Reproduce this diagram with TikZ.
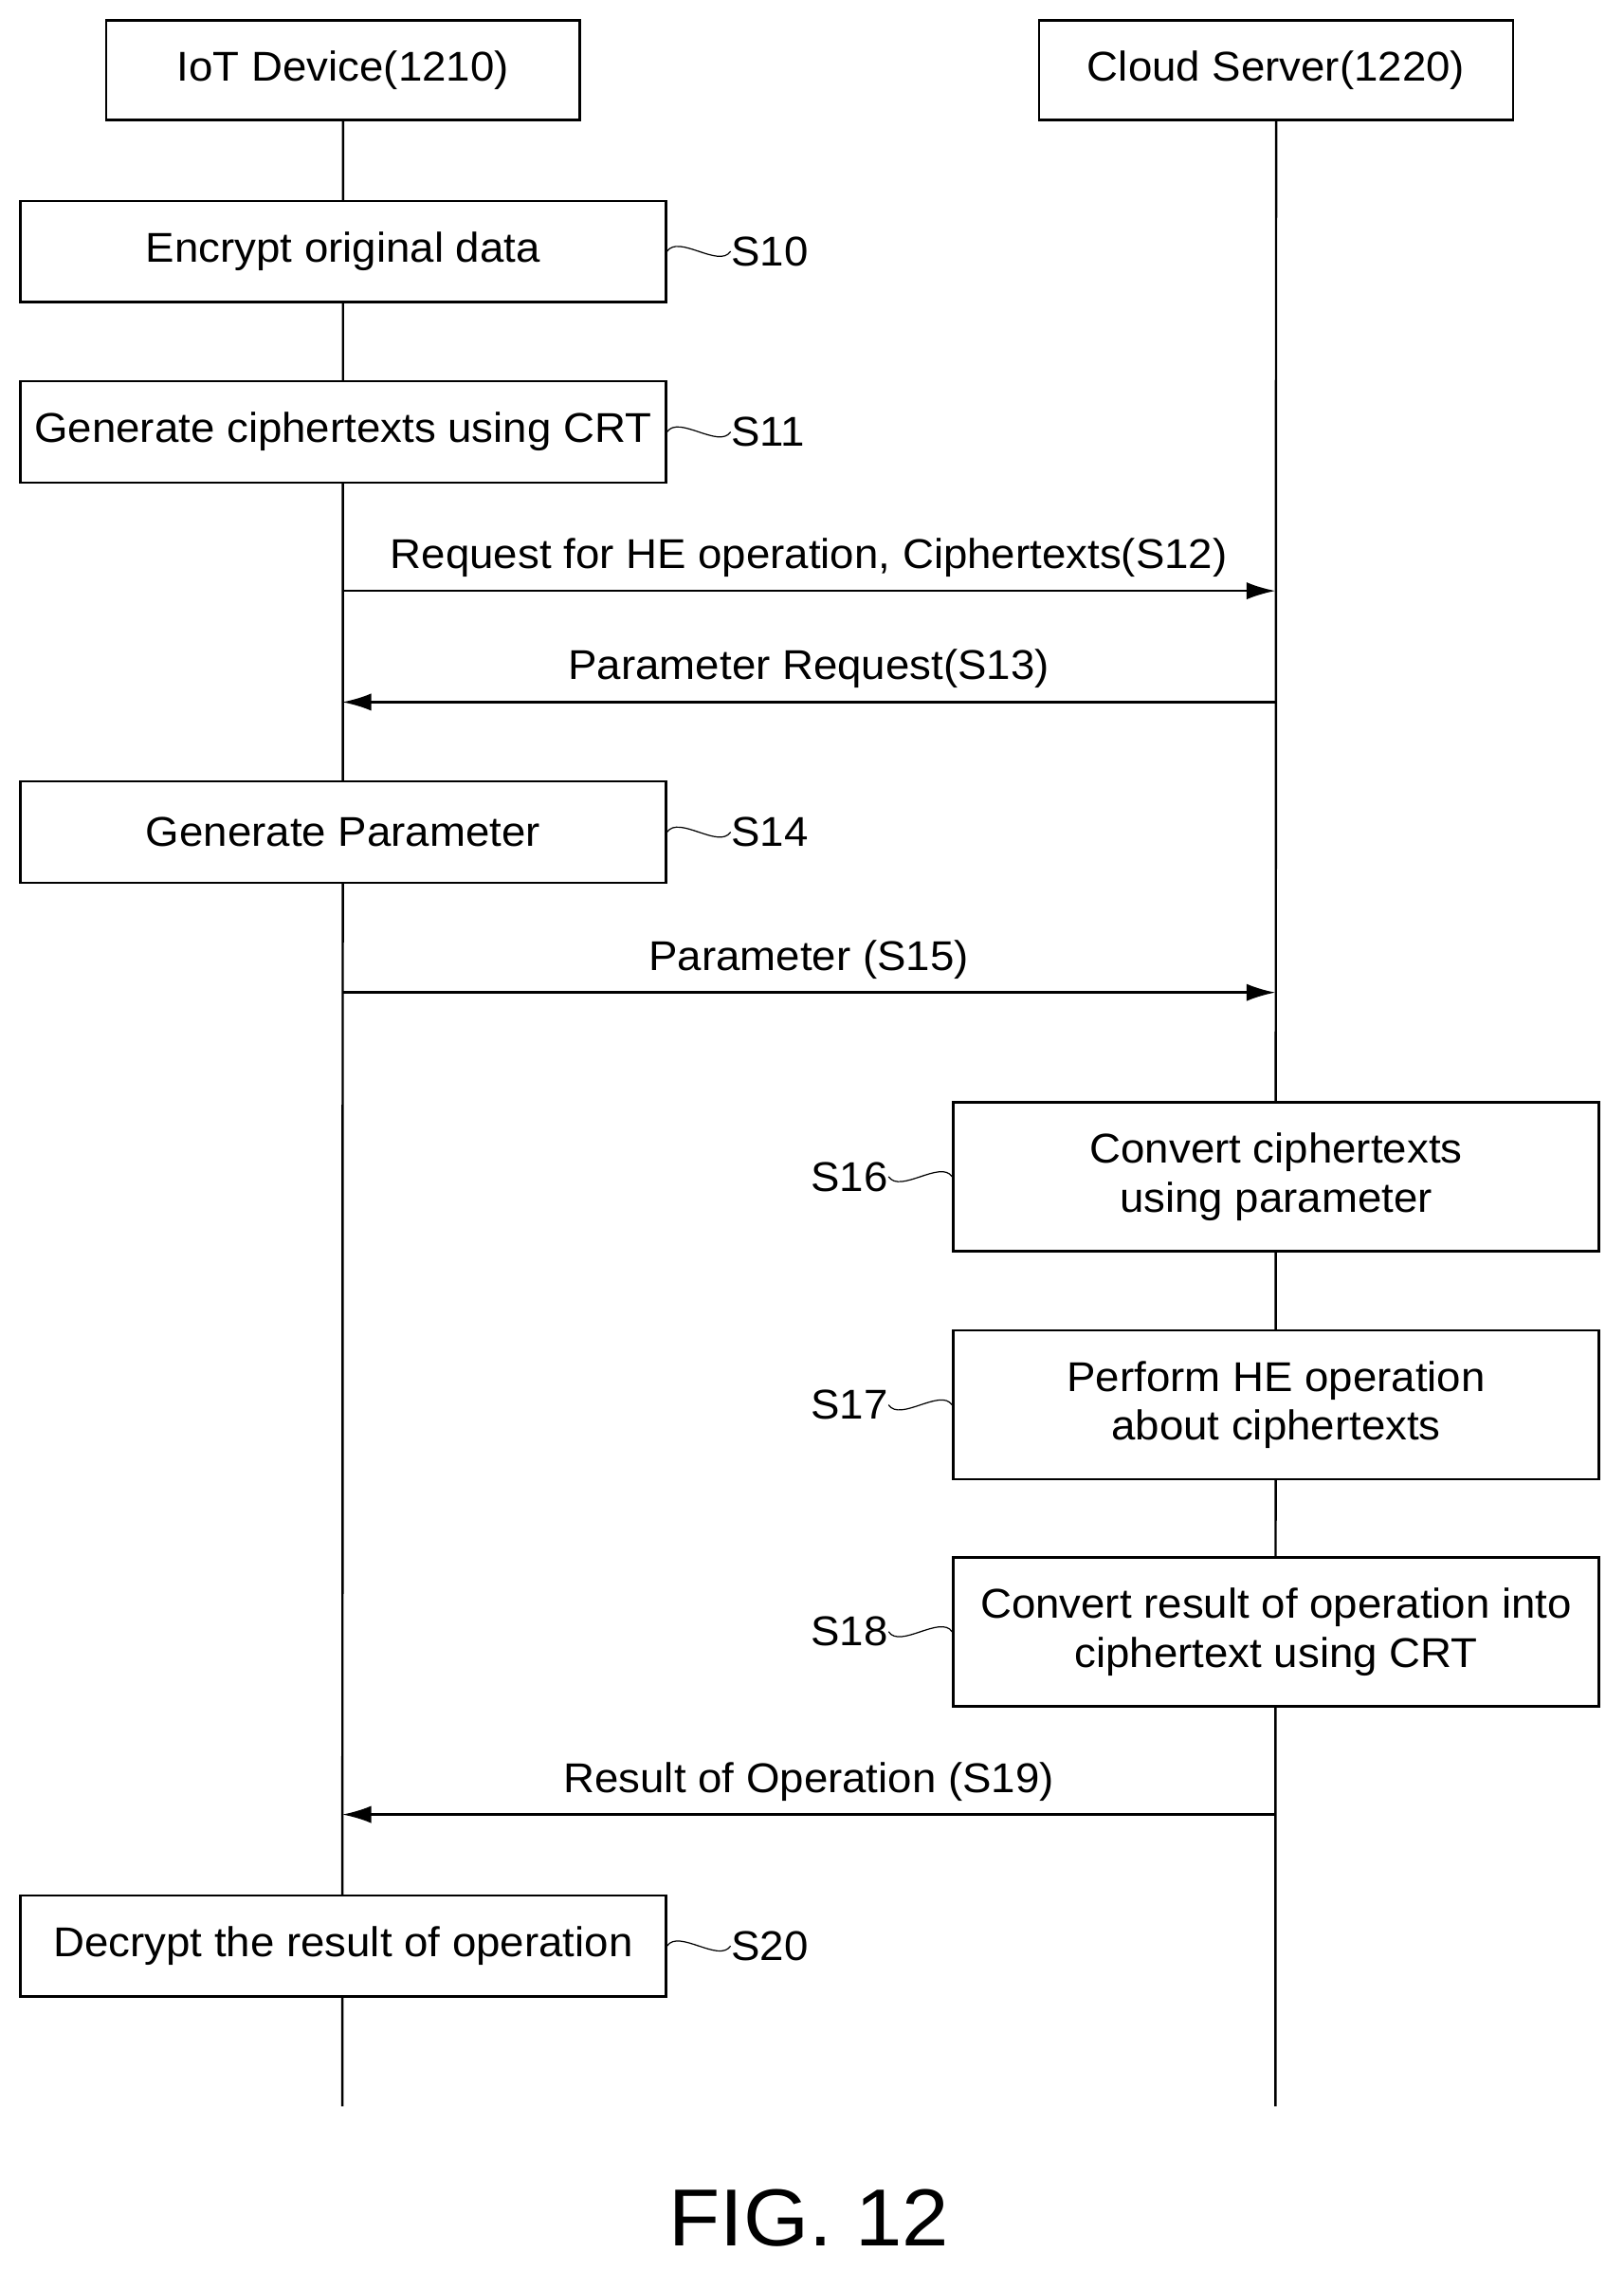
\documentclass[tikz,border=0pt]{standalone}
\usepackage{fontspec}
\setmainfont{Liberation Sans}[FakeStretch=1.04]
\usetikzlibrary{arrows.meta,backgrounds}
\begin{document}
\begin{tikzpicture}[x=0.5pt,y=-0.5pt,
  box/.style={draw,thick,fill=white,minimum width=223.5pt,inner sep=0pt,font=\fontsize{14.4}{17}\selectfont,align=center},
  hdr/.style={draw,thick,fill=white,minimum width=164pt,minimum height=34.5pt,inner sep=0pt,font=\fontsize{14.4}{17}\selectfont},
  msg/.style={thick,-{Latex[length=10pt,width=6pt]}},
  lab/.style={font=\fontsize{14.4}{17}\selectfont},
  sq/.style={thin}]
\useasboundingbox (0,0) rectangle (1124,1572);
\node[hdr] (iot) at (237.5,48.5) {IoT Device(1210)};
\node[hdr] (cs) at (883.5,48.5) {Cloud Server(1220)};
\node[box,minimum height=35pt] (s10) at (237.5,174) {Encrypt original data};
\node[box,minimum height=35pt] (s11) at (237.5,299) {Generate ciphertexts using CRT};
\node[box,minimum height=35pt] (s14) at (237.5,576) {Generate Parameter};
\node[box,minimum height=51.5pt] (s16) at (883.5,814.5) {Convert ciphertexts\\using parameter};
\node[box,minimum height=51.5pt] (s17) at (883.5,972.5) {Perform HE operation\\about ciphertexts};
\node[box,minimum height=51.5pt] (s18) at (883.5,1129.5) {Convert result of operation into\\ciphertext using CRT};
\node[box,minimum height=35pt] (s20) at (237.5,1347) {Decrypt the result of operation};
\coordinate (le) at (237,1458);
\coordinate (re) at (883,1458);
\begin{scope}[on background layer]
\draw[thick] (iot.south) -- (le);
\draw[thick] (cs.south) -- (re);
\end{scope}
\coordinate (a12) at (237,409); \coordinate (b12) at (883,409);
\coordinate (a13) at (237,486); \coordinate (b13) at (883,486);
\coordinate (a15) at (237,687); \coordinate (b15) at (883,687);
\coordinate (a19) at (237,1256); \coordinate (b19) at (883,1256);
\draw[msg] (a12) -- node[lab,above=1pt] (l12) {Request for HE operation, Ciphertexts(S12)} (b12);
\draw[msg] (b13) -- node[lab,above=1pt] (l13) {Parameter Request(S13)} (a13);
\draw[msg] (a15) -- node[lab,above=1pt] (l15) {Parameter (S15)} (b15);
\draw[msg] (b19) -- node[lab,above=1pt] (l19) {Result of Operation (S19)} (a19);
\foreach \n/\t in {s10/S10,s11/S11,s14/S14,s20/S20}{
  \node[lab,anchor=west,inner sep=0pt] (t\n) at ([xshift=22pt]\n.east) {\t};
  \draw[sq] (\n.east) .. controls ++(8,-12) and ++(-8,12) .. (t\n.west);
}
\foreach \n/\t in {s16/S16,s17/S17,s18/S18}{
  \node[lab,anchor=east,inner sep=0pt] (t\n) at ([xshift=-22pt]\n.west) {\t};
  \draw[sq] (t\n.east) .. controls ++(8,12) and ++(-8,-12) .. (\n.west);
}
\node[font=\fontsize{28}{32}\selectfont] (fig) at (560,1535) {FIG.\ 12};
\end{tikzpicture}
\end{document}
